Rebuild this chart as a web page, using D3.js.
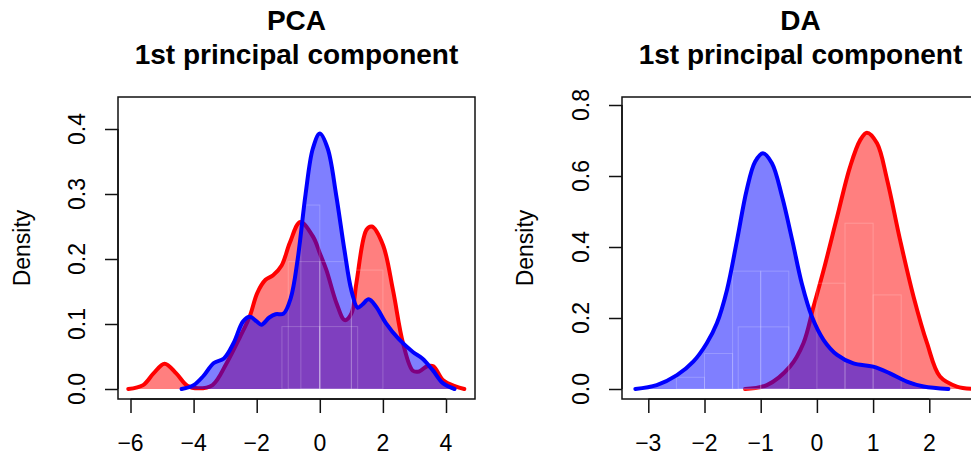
<!DOCTYPE html>
<html>
<head>
<meta charset="utf-8">
<script src="https://cdnjs.cloudflare.com/ajax/libs/d3/7.8.5/d3.min.js"></script>
<style>
  html, body { margin: 0; padding: 0; background: #fff; }
  svg { display: block; }
  text { font-family: "Liberation Sans", Arial, Helvetica, sans-serif; fill: #000; }
</style>
</head>
<body>
<svg id="chart" width="971" height="455"></svg>
<script>
// ---------------- DATA ----------------
const pcaTitle = ["PCA", "1st principal component"];
const daTitle = ["DA", "1st principal component"];
const yLabel = "Density";

const pcaXTicks = [-6, -4, -2, 0, 2, 4];
const pcaYTicks = [0, 0.1, 0.2, 0.3, 0.4];
const daXTicks = [-3, -2, -1, 0, 1, 2];
const daYTicks = [0, 0.2, 0.4, 0.6, 0.8];

// PCA density, red group  [x, density]
const pcaRed = [
  [-6.07,0],[-5.6,0.006],[-5.27,0.024],[-4.92,0.039],[-4.55,0.024],[-4.2,0.005],
  [-3.85,0.001],[-3.4,0.006],[-2.95,0.04],[-2.53,0.08],[-2.22,0.112],[-1.98,0.148],
  [-1.72,0.168],[-1.48,0.175],[-1.21,0.19],[-0.95,0.225],[-0.62,0.257],[-0.21,0.234],
  [0,0.209],[0.21,0.183],[0.53,0.132],[0.79,0.106],[1.0,0.116],[1.16,0.163],
  [1.48,0.245],[1.65,0.25],[2.0,0.222],[2.32,0.152],[2.64,0.07],[2.95,0.028],
  [3.15,0.027],[3.4,0.035],[3.6,0.035],[3.9,0.014],[4.3,0.004],[4.58,0]
];
// PCA density, blue group
const pcaBlue = [
  [-4.38,0],[-4.0,0.006],[-3.69,0.02],[-3.36,0.04],[-3.04,0.047],[-2.74,0.07],
  [-2.43,0.104],[-2.22,0.111],[-2.0,0.104],[-1.85,0.099],[-1.6,0.11],[-1.4,0.115],
  [-1.15,0.116],[-0.92,0.14],[-0.7,0.2],[-0.45,0.3],[-0.22,0.37],[0,0.393],
  [0.25,0.37],[0.52,0.298],[0.78,0.214],[1.0,0.152],[1.2,0.125],[1.35,0.13],
  [1.55,0.138],[1.78,0.127],[2.1,0.101],[2.5,0.077],[2.95,0.057],[3.25,0.047],
  [3.58,0.029],[3.9,0.009],[4.27,0]
];
// DA density, blue group
const daBlue = [
  [-3.23,0],[-2.85,0.011],[-2.49,0.039],[-2.2,0.077],[-1.96,0.129],[-1.78,0.185],
  [-1.6,0.279],[-1.42,0.42],[-1.25,0.56],[-1.1,0.64],[-0.96,0.664],[-0.8,0.636],
  [-0.62,0.542],[-0.44,0.42],[-0.27,0.298],[-0.09,0.204],[0.12,0.138],[0.36,0.096],
  [0.65,0.072],[1.0,0.063],[1.3,0.044],[1.6,0.021],[1.9,0.007],[2.34,0]
];
// DA density, red group
const daRed = [
  [-1.28,0],[-0.89,0.011],[-0.48,0.063],[-0.24,0.129],[-0.06,0.232],[0.12,0.335],
  [0.36,0.485],[0.59,0.626],[0.77,0.701],[0.89,0.722],[1.07,0.692],[1.25,0.589],
  [1.48,0.42],[1.72,0.26],[1.96,0.129],[2.19,0.035],[2.49,0.007],[2.8,0]
];
// faint histogram bars [x0, x1, height]
const pcaHist = [
  [-1.2,0,0.096],[0,1.2,0.096],
  [-1,0,0.196],[0,1,0.196],[1,2,0.183],[-0.6,0,0.283]
];
const daHist = [
  [-2.5,-2,0.033],[-2,-1.5,0.1],[-1.5,-1,0.332],[-1,-0.5,0.332],[-1.4,-0.5,0.175],
  [0,0.5,0.298],[0.5,1,0.467],[1,1.5,0.265]
];

// ---------------- DRAW ----------------
const svg = d3.select("#chart");
const FS = 23;

function panel(cfg) {
  const g = svg.append("g");
  const x = d3.scaleLinear().domain(cfg.xDomain).range(cfg.xRange);
  const y = d3.scaleLinear().domain(cfg.yDomain).range(cfg.yRange);
  const y0 = y(0);

  const area = d3.area().x(d => x(d[0])).y0(y0).y1(d => y(d[1]))
    .curve(d3.curveCatmullRom.alpha(0.5));
  const line = d3.line().x(d => x(d[0])).y(d => y(d[1]))
    .curve(d3.curveCatmullRom.alpha(0.5));

  // red fill + line
  g.append("path").attr("d", area(cfg.red)).attr("fill", "rgba(255,0,0,0.5)");
  g.append("path").attr("d", line(cfg.red)).attr("fill", "none")
    .attr("stroke", "#ff0000").attr("stroke-width", 4).attr("stroke-linejoin", "round").attr("stroke-linecap", "round");
  // blue fill
  g.append("path").attr("d", area(cfg.blue)).attr("fill", "rgba(0,0,255,0.5)");

  // histogram outlines
  g.selectAll("rect.h").data(cfg.hist).enter().append("rect")
    .attr("x", d => x(d[0])).attr("width", d => x(d[1]) - x(d[0]))
    .attr("y", d => y(d[2])).attr("height", d => y0 - y(d[2]))
    .attr("fill", "none").attr("stroke", "rgba(255,255,255,0.2)").attr("stroke-width", 1);

  g.append("path").attr("d", line(cfg.blue)).attr("fill", "none")
    .attr("stroke", "#0000ff").attr("stroke-width", 4).attr("stroke-linejoin", "round").attr("stroke-linecap", "round");

  // box
  g.append("rect").attr("x", cfg.box[0]).attr("y", cfg.box[1])
    .attr("width", cfg.box[2] - cfg.box[0]).attr("height", cfg.box[3] - cfg.box[1])
    .attr("fill", "none").attr("stroke", "#111").attr("stroke-width", 1.5);

  // x axis
  const xa = g.append("g").attr("transform", `translate(0,${cfg.box[3]})`)
    .call(d3.axisBottom(x).tickValues(cfg.xTicks).tickSize(14).tickSizeOuter(0).tickFormat(() => ""));
  xa.select(".domain").attr("d", `M${x(cfg.xTicks[0])},0H${x(cfg.xTicks[cfg.xTicks.length-1])}`)
    .attr("stroke", "#111").attr("stroke-width", 1.5);
  xa.selectAll(".tick line").attr("stroke", "#111").attr("stroke-width", 1.5);
  g.selectAll("text.xl").data(cfg.xTicks).enter().append("text")
    .attr("x", d => x(d)).attr("y", 451).attr("text-anchor", "middle")
    .style("font-size", FS + "px")
    .text(d => d < 0 ? "\u2212" + Math.abs(d) : String(d));

  // y axis
  const ya = g.append("g").attr("transform", `translate(${cfg.box[0]},0)`)
    .call(d3.axisLeft(y).tickValues(cfg.yTicks).tickSize(13).tickSizeOuter(0).tickFormat(() => ""));
  ya.select(".domain").attr("d", `M0,${y(cfg.yTicks[0])}V${y(cfg.yTicks[cfg.yTicks.length-1])}`)
    .attr("stroke", "#111").attr("stroke-width", 1.5);
  ya.selectAll(".tick line").attr("stroke", "#111").attr("stroke-width", 1.5);
  g.selectAll("text.yl").data(cfg.yTicks).enter().append("text")
    .attr("transform", d => `translate(${cfg.yLabelX},${y(d)}) rotate(-90)`)
    .attr("text-anchor", "middle").style("font-size", FS + "px")
    .text(d => d3.format(".1f")(d));

  // y title
  g.append("text").attr("transform", `translate(${cfg.densX},248) rotate(-90)`)
    .attr("text-anchor", "middle").style("font-size", FS + "px").text(yLabel);

  // main title
  const cx = (cfg.box[0] + cfg.box[2]) / 2;
  cfg.title.forEach((t, i) => {
    g.append("text").attr("x", cx).attr("y", 30 + i * 34)
      .attr("text-anchor", "middle").style("font-size", "28px").style("font-weight", "bold").text(t);
  });
}

panel({
  xDomain: [-6, 4], xRange: [130.5, 446],
  yDomain: [0, 0.4], yRange: [389, 129],
  box: [118, 97, 475, 399],
  xTicks: pcaXTicks, yTicks: pcaYTicks,
  red: pcaRed, blue: pcaBlue, hist: pcaHist,
  yLabelX: 85, densX: 30, title: pcaTitle
});
panel({
  xDomain: [-3, 2], xRange: [648.3, 929.3],
  yDomain: [0, 0.8], yRange: [389, 105],
  box: [622, 97, 979, 399],
  xTicks: daXTicks, yTicks: daYTicks,
  red: daRed, blue: daBlue, hist: daHist,
  yLabelX: 589, densX: 533, title: daTitle
});
</script>
</body>
</html>
